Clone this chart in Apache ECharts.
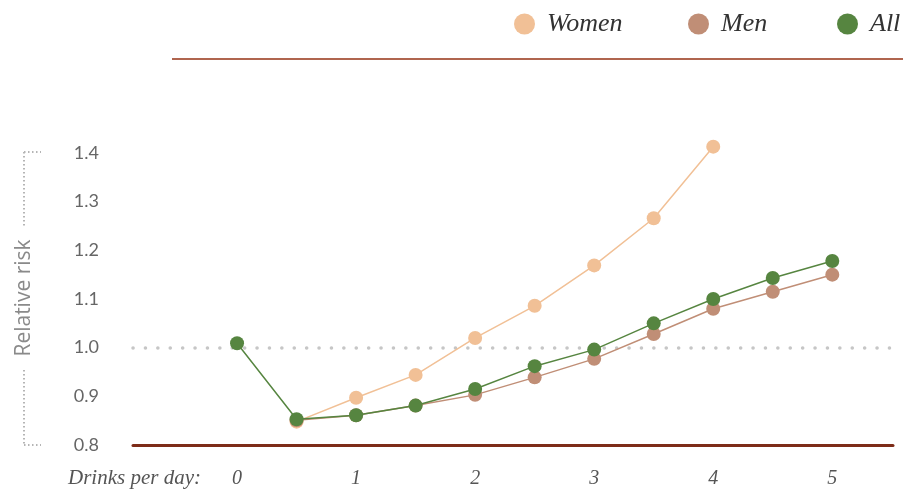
<!DOCTYPE html>
<html><head><meta charset="utf-8">
<script src="https://cdn.jsdelivr.net/npm/echarts@6/dist/echarts.min.js"></script>
<style>html,body{margin:0;padding:0;background:#fff}#c{width:903px;height:493px}</style>
</head><body><div id="c"></div>
<script>
var xWomen = [0.5,1,1.5,2,2.5,3,3.5,4];
var women = [0.848,0.897,0.944,1.020,1.086,1.169,1.266,1.413];
var xMen = [0.5,1,1.5,2,2.5,3,3.5,4,4.5,5];
var men = [0.851,0.861,0.881,0.903,0.939,0.977,1.028,1.080,1.115,1.150];
var xAll = [0,0.5,1,1.5,2,2.5,3,3.5,4,4.5,5];
var all = [1.009,0.853,0.861,0.881,0.915,0.962,0.996,1.050,1.100,1.143,1.178];
var xTicks = [0,1,2,3,4,5];
var yTicks = [0.8,0.9,1.0,1.1,1.2,1.3,1.4];
var refLevel = 1.0;
var names = ['Women','Men','All'];
var colors = ['#f1c096','#c08e76','#568540'];

function pairs(xs, ys){ return xs.map(function(x,i){return [x, ys[i]];}); }

var chart = echarts.init(document.getElementById('c'));
var serif = '"Liberation Serif", "DejaVu Serif", serif';
var sans = 'Lato, "Open Sans", sans-serif';
var lineDefs = [pairs(xWomen,women), pairs(xMen,men), pairs(xAll,all)];
var series = [{
  name:'ref', type:'line', data:[], z:0, silent:true,
  markLine:{
    silent:true, symbol:'none', label:{show:false}, z:0,
    lineStyle:{color:'#c6c6c6', type:[0.1,12.3], width:3.5, cap:'round'},
    data:[{yAxis:refLevel}], animation:false
  }
}];
lineDefs.forEach(function(d,i){
  series.push({
    name: names[i], type:'line', data:d, symbol:'circle', symbolSize:14, clip:false,
    itemStyle:{color:colors[i]}, lineStyle:{color:colors[i], width:1.5},
    z: 3+i, animation:false
  });
});
var legendLefts = [509, 683, 832];
var legends = names.map(function(n,i){
  return {
    left:legendLefts[i], top:6, width:300, itemWidth:21, itemHeight:21,
    icon:'circle', data:[n],
    textStyle:{fontFamily:serif, fontStyle:'italic', fontSize:26, color:'#333', padding:[0,0,0,7]}
  };
});
chart.setOption({
  animation:false,
  color: ['#ccc'].concat(colors),
  legend: legends,
  grid:{left:133, right:10, top:153, bottom:48},
  xAxis:{
    type:'value', min:-0.874, max:5.51,
    splitLine:{show:false},
    axisLine:{show:true, onZero:false, lineStyle:{color:'#7d2c18', width:3}},
    axisTick:{show:false},
    axisLabel:{customValues:xTicks, margin:24, fontFamily:serif, fontStyle:'italic', fontSize:20, color:'#555'}
  },
  yAxis:{
    type:'value', min:0.8, max:1.4, interval:0.1,
    splitLine:{show:false}, axisLine:{show:false}, axisTick:{show:false},
    axisLabel:{margin:34, fontFamily:sans, fontSize:18, color:'#666',
      formatter:function(v){return v.toFixed(1);}}
  },
  graphic:[
    {type:'line', shape:{x1:172,y1:59,x2:903,y2:59}, style:{stroke:'#b0654f', lineWidth:2}},
    {type:'text', left:68, top:468, style:{text:'Drinks per day:', font:'italic 21px '+serif, fill:'#555'}},
    {type:'text', x:24, y:298, rotation:Math.PI/2, style:{text:'Relative risk', font:'21px "Open Sans", sans-serif', fill:'#8a8a8a', align:'center', verticalAlign:'middle'}},
    {type:'line', shape:{x1:24,y1:152,x2:24,y2:226}, style:{stroke:'#b5b5b5', lineWidth:2, lineDash:[1.5,2.5]}},
    {type:'line', shape:{x1:24,y1:152,x2:41,y2:152}, style:{stroke:'#b5b5b5', lineWidth:2, lineDash:[1.5,2.5]}},
    {type:'line', shape:{x1:24,y1:370,x2:24,y2:445}, style:{stroke:'#b5b5b5', lineWidth:2, lineDash:[1.5,2.5]}},
    {type:'line', shape:{x1:24,y1:445,x2:41,y2:445}, style:{stroke:'#b5b5b5', lineWidth:2, lineDash:[1.5,2.5]}}
  ],
  series: series
});
</script></body></html>
